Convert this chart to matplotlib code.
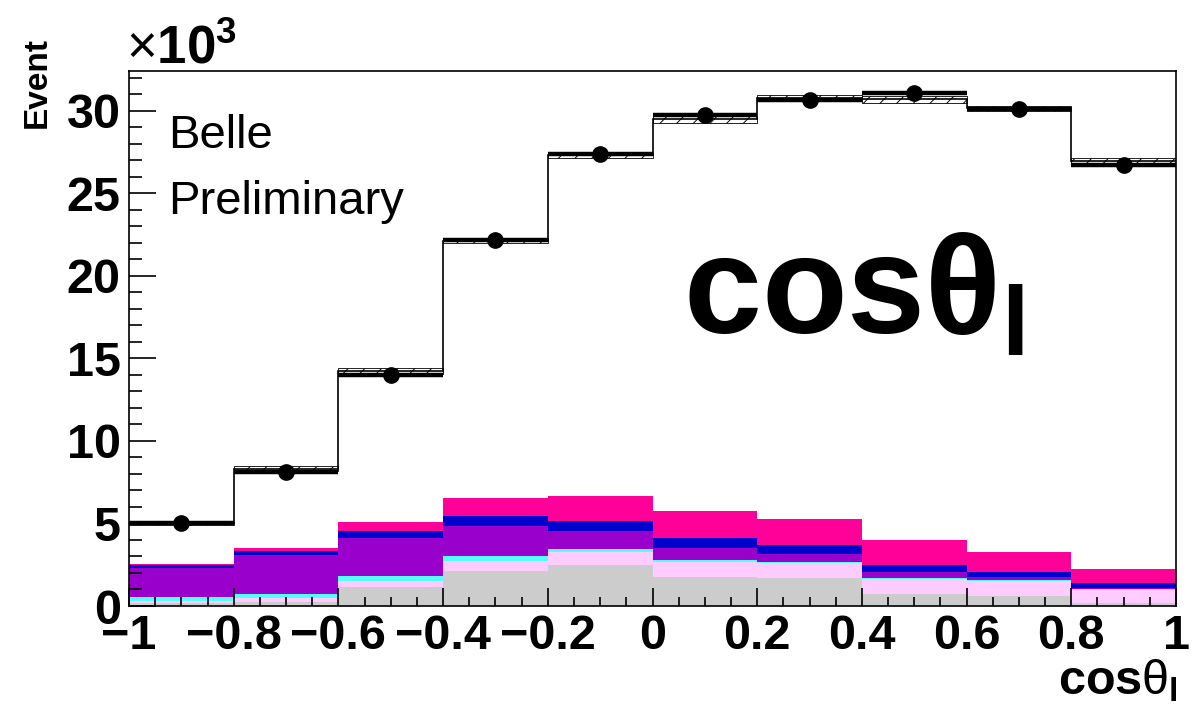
import numpy as np
import matplotlib.pyplot as plt
from matplotlib.ticker import MultipleLocator

plt.rcParams['font.family'] = ['Liberation Sans', 'DejaVu Sans']
plt.rcParams['mathtext.fontset'] = 'custom'
plt.rcParams['mathtext.rm'] = 'Liberation Sans'
plt.rcParams['mathtext.it'] = 'Liberation Sans'
plt.rcParams['mathtext.bf'] = 'Liberation Sans:bold'
plt.rcParams['hatch.linewidth'] = 0.7

# bins in cos(theta_l), counts in units of 10^3
bin_edges = [-1.0, -0.8, -0.6, -0.4, -0.2, 0.0, 0.2, 0.4, 0.6, 0.8, 1.0]
xtick_labels = ['\u22121', '\u22120.8', '\u22120.6', '\u22120.4', '\u22120.2',
                '0', '0.2', '0.4', '0.6', '0.8', '1']

data = [5.05, 8.12, 14.0, 22.18, 27.35, 29.72, 30.63, 31.07, 30.10, 26.73]
mc_total = [5.0, 8.3, 14.25, 22.12, 27.3, 29.48, 30.77, 30.69, 30.15, 26.93]
mc_err = [0.12, 0.15, 0.18, 0.15, 0.15, 0.22, 0.2, 0.22, 0.15, 0.2]

# background components, bottom to top
bkg_gray = [0.20, 0.24, 1.13, 2.14, 2.46, 1.76, 1.70, 0.75, 0.61, 0.16]
bkg_pink = [0.12, 0.22, 0.40, 0.61, 0.83, 0.89, 0.89, 0.89, 0.88, 0.81]
bkg_cyan = [0.21, 0.25, 0.27, 0.28, 0.14, 0.12, 0.10, 0.08, 0.09, 0.06]
bkg_purple = [1.79, 2.36, 2.32, 1.84, 1.14, 0.77, 0.48, 0.36, 0.16, 0.06]
bkg_blue = [0.15, 0.26, 0.43, 0.60, 0.60, 0.60, 0.55, 0.42, 0.34, 0.28]
bkg_magenta = [0.08, 0.19, 0.54, 1.08, 1.52, 1.60, 1.57, 1.50, 1.19, 0.87]

components = [bkg_gray, bkg_pink, bkg_cyan, bkg_purple, bkg_blue, bkg_magenta]
colors = ['#cccccc', '#ffccff', '#55ffff', '#9900cc', '#0000cc', '#ff0099']

edges = np.array(bin_edges)
centers = 0.5 * (edges[1:] + edges[:-1])
widths = edges[1:] - edges[:-1]
data = np.array(data)
mc_total = np.array(mc_total)
mc_err = np.array(mc_err)

fig = plt.figure(figsize=(11.93, 7.07), dpi=100)
ax = fig.add_axes([129/1193, 101/707, 1047/1193, 535/707])

base = np.zeros(len(centers))
for comp, c in zip(components, colors):
    top = base + np.array(comp)
    ax.stairs(top, edges, baseline=base, fill=True, color=c, lw=0)
    base = top

# MC uncertainty band and total
ax.bar(centers, 2*mc_err, bottom=mc_total - mc_err, width=widths, fill=False,
       hatch='//', edgecolor='k', linewidth=0.6)
ax.stairs(mc_total, edges, baseline=None, color='k', lw=1.2)

# data
ax.errorbar(centers, data, xerr=widths/2, yerr=np.sqrt(data*1000)/1000,
            fmt='o', color='k', ms=11, elinewidth=3.2, capsize=0, zorder=5)

ax.set_xlim(-1, 1)
ax.set_ylim(0, 32.4)
ax.set_xticks(edges)
ax.set_xticklabels(xtick_labels)
ax.set_yticks([0, 5, 10, 15, 20, 25, 30])
ax.xaxis.set_minor_locator(MultipleLocator(0.05))
ax.yaxis.set_minor_locator(MultipleLocator(1))
ax.xaxis.set_tick_params(which='major', direction='in', length=13, width=1.2, pad=6)
ax.xaxis.set_tick_params(which='minor', direction='in', length=6.5, width=1.2)
ax.yaxis.set_tick_params(which='major', direction='in', length=19.5, width=1.2, pad=6)
ax.yaxis.set_tick_params(which='minor', direction='in', length=9.5, width=1.2)
for lab in ax.get_xticklabels() + ax.get_yticklabels():
    lab.set_fontsize(35)
    lab.set_fontweight('bold')
for sp in ax.spines.values():
    sp.set_linewidth(1.2)

fig.text(126/1193, 1 - 63/707, r'$\times\mathbf{10^{3}}$', fontsize=38, va='baseline')
fig.text(37/1193, 1 - 82/707, 'Event', rotation=90, fontsize=24,
         fontweight='bold', ha='center', va='center')
fig.text(168/1193, 1 - 148/707, 'Belle', fontsize=34, va='baseline')
fig.text(168/1193, 1 - 214/707, 'Preliminary', fontsize=34, va='baseline')
fig.text(683/1193, 1 - 334/707, r'$\mathbf{cos\theta_{l}}$', fontsize=101, va='baseline')
fig.text(1178/1193, 1 - 694/707, r'$\mathbf{cos}\theta_{\mathbf{l}}$', fontsize=35,
         ha='right', va='baseline')

fig.savefig('out.png', dpi=100)
